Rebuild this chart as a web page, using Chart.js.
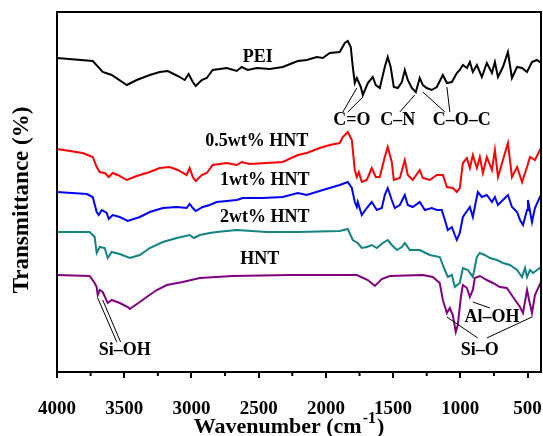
<!DOCTYPE html>
<html>
<head>
<meta charset="utf-8">
<script src="https://cdn.jsdelivr.net/npm/chart.js@4.4.1/dist/chart.umd.min.js"></script>
<style>
  html, body { margin: 0; padding: 0; background: #fff; }
  #wrap { width: 543px; height: 436px; }
</style>
</head>
<body>
<div id="wrap"><canvas id="c" width="543" height="436"></canvas></div>
<script>
// ---- Data (wavenumber in cm-1, relative transmittance in arbitrary units) ----
const xTickValues = [4000, 3500, 3000, 2500, 2000, 1500, 1000, 500];
const xMinorTicks = [3750, 3250, 2750, 2250, 1750, 1250, 750];

const peiWn = [4000,3734,3660,3593,3481,3407,3310,3236,3176,3102,3050,3021,2990,2968,2923,2886,2842,2737,2663,2626,2581,2514,2418,2321,2209,2142,2068,2023,1971,1897,1859,1837,1815,1800,1785,1770,1763,1740,1725,1688,1651,1629,1599,1562,1540,1518,1495,1465,1435,1413,1391,1361,1331,1302,1279,1250,1213,1175,1130,1100,1063,1026,1004,981,951,929,907,877,840,803,765,743,720,683,646,616,578,541,504,467,430,400];
const peiT  = [314,311,300,297,287,292,297,300,301,296,292,298,290,286,292,294,302,304,301,305,302,304,303,305,311,312,315,314,319,320,329,331,325,305,289,294,292,285,277,289,295,287,284,305,315,305,285,284,290,302,292,284,280,294,287,284,282,285,297,289,290,299,302,307,304,310,300,307,295,309,299,310,295,305,320,294,305,304,300,310,312,309];

const h05Wn = [4000,3809,3734,3705,3682,3645,3615,3586,3548,3481,3407,3310,3236,3161,3102,3036,3013,2990,2968,2923,2886,2842,2737,2663,2626,2566,2440,2321,2209,2142,2046,1971,1897,1874,1837,1807,1785,1770,1755,1733,1696,1659,1629,1599,1562,1540,1510,1495,1450,1413,1391,1354,1302,1279,1227,1175,1130,1100,1056,1026,1004,981,951,929,907,877,855,832,803,765,743,720,683,646,616,578,541,504,482,445,408,400];
const h05T  = [223,219,215,205,200,199,195,199,197,192,196,200,204,205,202,197,204,195,191,197,199,207,209,207,210,208,209,210,217,219,224,227,229,235,240,232,202,195,200,190,192,204,195,195,215,225,210,192,194,212,197,192,202,194,192,197,197,185,184,180,184,209,214,204,217,204,215,199,215,202,222,195,212,229,195,205,190,205,215,212,222,220];

const h1Wn = [4000,3779,3734,3705,3690,3667,3630,3615,3586,3533,3474,3384,3310,3213,3109,3036,3013,2990,2968,2916,2864,2812,2663,2618,2470,2321,2209,2142,2023,1897,1837,1807,1785,1770,1763,1733,1696,1659,1621,1584,1562,1540,1510,1488,1450,1413,1391,1354,1302,1264,1213,1175,1138,1115,1093,1063,1041,1026,1004,981,929,907,885,870,840,803,765,743,720,683,646,616,578,556,534,504,497,467,445,408,400];
const h1T  = [180,178,175,160,157,162,159,153,157,155,151,155,160,164,165,164,168,164,161,165,167,170,172,174,174,175,179,177,182,187,190,184,170,165,170,157,164,170,162,164,177,184,172,164,167,177,167,165,170,162,164,162,162,152,142,145,137,132,139,155,165,155,170,180,175,177,170,175,167,172,177,165,160,152,147,162,172,150,164,175,177];

const h2Wn = [4000,3757,3720,3705,3682,3645,3623,3593,3533,3459,3384,3310,3213,3109,3013,2983,2938,2864,2812,2663,2440,2209,1897,1837,1800,1763,1733,1696,1659,1621,1577,1540,1510,1472,1435,1413,1376,1302,1227,1153,1115,1093,1063,1041,1004,981,944,907,877,855,818,780,728,683,631,578,541,519,504,482,460,400];
const h2T  = [140,140,135,119,125,124,114,120,118,114,117,124,130,134,137,134,137,139,140,142,140,140,141,143,132,129,124,125,127,124,129,132,127,122,125,129,122,122,117,115,102,95,97,85,89,104,102,95,115,119,117,114,112,109,107,102,95,104,95,102,99,105];

const hntWn = [4000,3757,3720,3705,3697,3682,3660,3623,3593,3533,3474,3459,3384,3333,3258,3183,3065,2938,2693,2269,1770,1688,1636,1584,1525,1279,1205,1153,1130,1100,1078,1056,1034,1019,996,981,951,929,907,892,855,803,758,706,654,608,556,534,504,489,467,445,400];
const hntT  = [97,96,89,85,77,82,80,69,72,69,65,63,70,75,82,87,90,94,96,97,97,92,86,93,96,97,95,89,72,59,64,57,40,47,75,87,84,75,82,94,96,92,89,85,84,75,65,59,82,72,59,77,90];

const seriesNames = ['PEI', '0.5wt% HNT', '1wt% HNT', '2wt% HNT', 'HNT'];
const seriesColors = ['#000000', '#ff0000', '#0000ff', '#138383', '#800080'];

// Text labels [text, wavenumber, value]
const labelText = ['PEI', '0.5wt% HNT', '1wt% HNT', '2wt% HNT', 'HNT', 'C=O', 'C\u2013N', 'C\u2013O\u2013C', 'Si\u2013OH', 'Al\u2013OH', 'Si\u2013O'];
const labelWn   = [2507, 2515, 2455, 2455, 2492, 1807, 1465, 989, 3496, 765, 855];
const labelT    = [315, 231, 192, 155, 113, 252, 252, 252, 22, 55, 22];

// Annotation leader lines: start wn, start value, end wn, end value
const leadX1 = [1874, 1837, 1450, 1115, 1078, 3697, 3660, 907, 1100, 467];
const leadY1 = [260, 260, 260, 260, 260, 74, 72, 70, 55, 55];
const leadX2 = [1770, 1725, 1339, 1279, 1100, 3555, 3527, 780, 870, 803];
const leadY2 = [284, 275, 277, 280, 285, 30, 30, 64, 34, 34];

// ---- Build datasets ----
function zip(xs, ys) { return xs.map((x, i) => ({ x: x, y: ys[i] })); }
const allWn = [peiWn, h05Wn, h1Wn, h2Wn, hntWn];
const allT  = [peiT, h05T, h1T, h2T, hntT];
const datasets = seriesNames.map((n, i) => ({
  label: n,
  data: zip(allWn[i], allT[i]),
  borderColor: seriesColors[i],
  backgroundColor: seriesColors[i],
  borderWidth: 2,
  pointRadius: 0,
  tension: 0,
  fill: false
}));

const FONT = '"Liberation Serif", "Times New Roman", serif';

const decor = {
  id: 'decor',
  afterDraw(chart) {
    const ctx = chart.ctx;
    const a = chart.chartArea;
    const xs = chart.scales.x, ys = chart.scales.y;
    ctx.save();
    // frame
    ctx.strokeStyle = '#000';
    ctx.lineWidth = 2;
    ctx.strokeRect(a.left, a.top, a.right - a.left, a.bottom - a.top);
    // minor ticks
    ctx.beginPath();
    xMinorTicks.forEach(v => {
      const px = xs.getPixelForValue(v);
      ctx.moveTo(px, a.bottom);
      ctx.lineTo(px, a.bottom + 4);
    });
    ctx.stroke();
    // leader lines
    ctx.lineWidth = 1;
    ctx.beginPath();
    leadX1.forEach((v, i) => {
      ctx.moveTo(xs.getPixelForValue(v), ys.getPixelForValue(leadY1[i]));
      ctx.lineTo(xs.getPixelForValue(leadX2[i]), ys.getPixelForValue(leadY2[i]));
    });
    ctx.stroke();
    // labels
    ctx.fillStyle = '#000';
    ctx.textAlign = 'center';
    ctx.textBaseline = 'middle';
    ctx.font = 'bold 18px ' + FONT;
    labelText.forEach((t, i) => {
      ctx.fillText(t, xs.getPixelForValue(labelWn[i]), ys.getPixelForValue(labelT[i]));
    });
    // y title
    ctx.font = 'bold 23px ' + FONT;
    ctx.save();
    ctx.translate(22, (a.top + a.bottom) / 2 + 8);
    ctx.rotate(-Math.PI / 2);
    ctx.fillText('Transmittance (%)', 0, 0);
    ctx.restore();
    // x title with superscript
    const main = 'Wavenumber (cm';
    const sup = '-1';
    const close = ')';
    ctx.font = 'bold 22px ' + FONT;
    const w1 = ctx.measureText(main).width;
    const w3 = ctx.measureText(close).width;
    ctx.font = 'bold 16px ' + FONT;
    const w2 = ctx.measureText(sup).width;
    const total = w1 + w2 + w3;
    let x0 = 288 - total / 2;
    ctx.textAlign = 'left';
    ctx.textBaseline = 'alphabetic';
    ctx.font = 'bold 22px ' + FONT;
    ctx.fillText(main, x0, 433);
    ctx.font = 'bold 16px ' + FONT;
    ctx.fillText(sup, x0 + w1 + 1, 423);
    ctx.font = 'bold 22px ' + FONT;
    ctx.fillText(close, x0 + w1 + w2 + 2, 433);
    ctx.restore();
  }
};

new Chart(document.getElementById('c'), {
  type: 'line',
  data: { datasets: datasets },
  options: {
    responsive: false,
    animation: false,
    parsing: true,
    layout: { padding: { left: 57, right: 2, top: 12, bottom: 0 } },
    plugins: { legend: { display: false }, tooltip: { enabled: false } },
    scales: {
      x: {
        type: 'linear',
        reverse: true,
        min: 400,
        max: 4000,
        afterBuildTicks: (s) => { s.ticks = xTickValues.map(v => ({ value: v })); },
        afterFit: (s) => { s.height = 64; s.paddingLeft = 0; s.paddingRight = 0; },
        grid: { display: true, drawOnChartArea: false, drawTicks: true, tickLength: 6, color: '#000', lineWidth: 2 },
        border: { display: true, color: '#000', width: 2 },
        ticks: {
          color: '#000',
          padding: 20,
          maxRotation: 0,
          autoSkip: false,
          font: { family: FONT, size: 19, weight: 'bold' },
          callback: (v) => String(v)
        }
      },
      y: {
        display: false,
        min: 0,
        max: 360
      }
    }
  },
  plugins: [decor]
});
</script>
</body>
</html>
